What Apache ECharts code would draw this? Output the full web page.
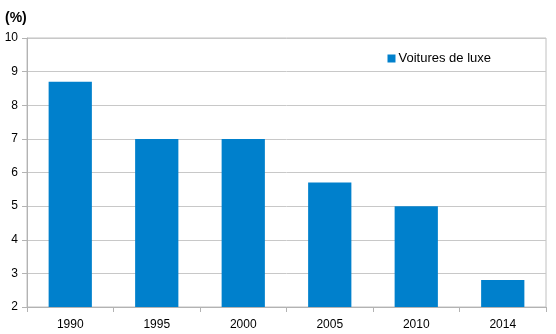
<!DOCTYPE html>
<html><head><meta charset="utf-8">
<script src="https://cdn.jsdelivr.net/npm/echarts@6/dist/echarts.min.js"></script>
<style>html,body{margin:0;padding:0;background:#fff}#c{width:556px;height:334px}</style>
</head><body><div id="c"></div>
<script>
const categories = ['1990','1995','2000','2005','2010','2014'];
const seriesName = 'Voitures de luxe';
const values = [8.7, 7.0, 7.0, 5.7, 5.0, 2.8];
const yTicks = [2,3,4,5,6,7,8,9,10];
const unitLabel = '(%)';

const chart = echarts.init(document.getElementById('c'));
chart.setOption({
  animation: false,
  textStyle: {fontFamily: 'Liberation Sans, Arial, sans-serif'},
  title: {text: unitLabel, left: 0, top: 6, textStyle: {fontSize: 14, fontWeight: 'bold', color: '#000', fontFamily: 'Liberation Sans, Arial, sans-serif'}},
  legend: {data: [seriesName], right: 65, top: 52, padding: 0, icon: 'rect', itemWidth: 8, itemHeight: 8, itemGap: 4,
    textStyle: {fontSize: 13, color: '#000', padding: [0,0,0,-2]}},
  grid: {left: 27, right: 10, top: 38, bottom: 27, show: true, borderColor: '#c0c0c0', borderWidth: 1, containLabel: false},
  xAxis: {type: 'category', data: categories,
    axisLine: {lineStyle: {color: '#b3b3b3'}},
    axisTick: {show: true, length: 5, lineStyle: {color: '#b3b3b3'}},
    axisLabel: {fontSize: 12, color: '#000', margin: 12}},
  yAxis: {type: 'value', min: yTicks[0], max: yTicks[yTicks.length-1], interval: 1,
    axisLine: {show: true, lineStyle: {color: '#b3b3b3'}},
    axisTick: {show: true, length: 5, lineStyle: {color: '#b3b3b3'}},
    axisLabel: {fontSize: 12, color: '#000', margin: 9},
    splitLine: {lineStyle: {color: '#c8c8c8'}}},
  series: [{type: 'bar', name: seriesName, data: values, barWidth: '50%',
    itemStyle: {color: '#0080cc'}}]
});
</script></body></html>
